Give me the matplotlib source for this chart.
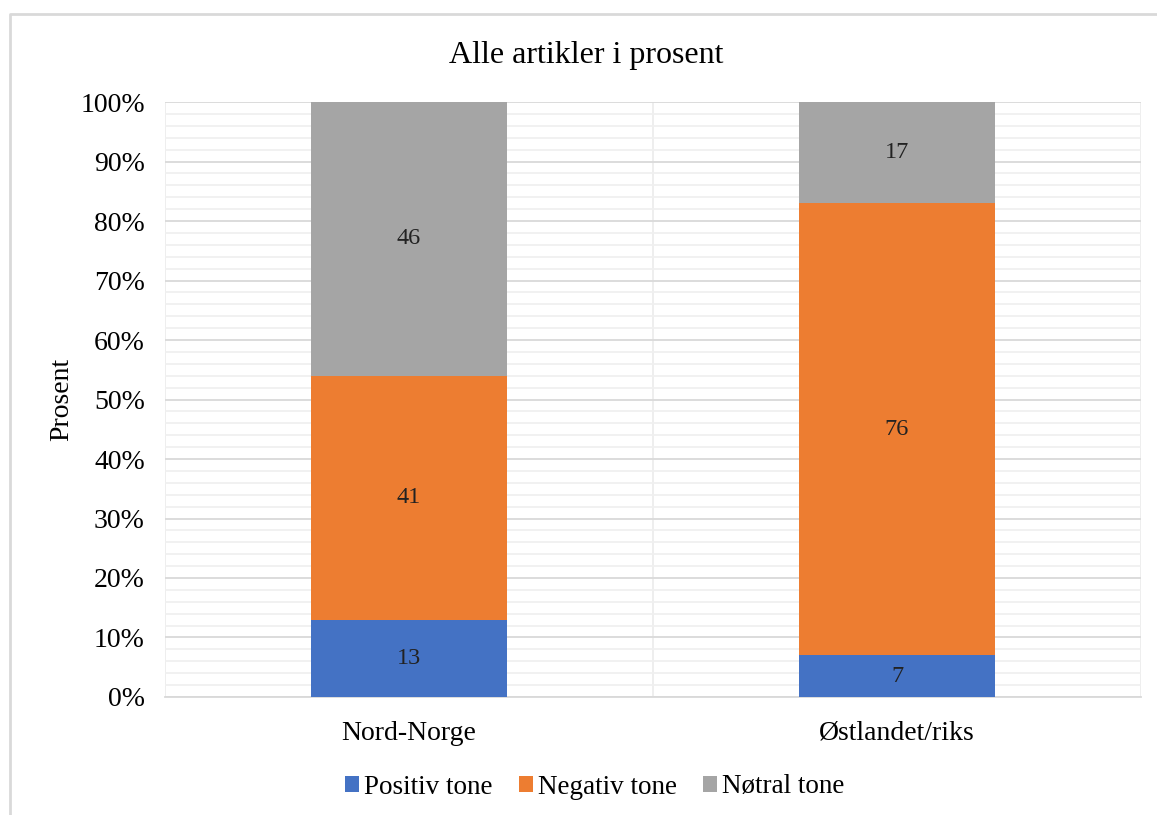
import matplotlib.pyplot as plt
from matplotlib.lines import Line2D
from matplotlib.ticker import MultipleLocator, FuncFormatter

# Data
categories = ["Nord-Norge", "Østlandet/riks"]
positiv = [13, 7]
negativ = [41, 76]
noytral = [46, 17]
series_names = ["Positiv tone", "Negativ tone", "Nøtral tone"]
colors = ["#4472C4", "#ED7D31", "#A5A5A5"]

plt.rcParams['font.family'] = ['Liberation Serif', 'DejaVu Serif']

fig = plt.figure(figsize=(11.57, 8.15), dpi=100)
ax = fig.add_axes([0.1426, 0.1448, 0.8436, 0.7300])

# Frame round the chart (only left and top edges show)
fx, fy = 9.5 / 1157, 1 - 13.5 / 815
fig.lines.append(Line2D([fx, fx, 1.0], [0, fy, fy], transform=fig.transFigure,
                        color="#D9D9D9", linewidth=2))

x = range(len(categories))
bottom = [0] * len(categories)
for vals, name, col in zip([positiv, negativ, noytral], series_names, colors):
    bars = ax.bar(x, vals, 0.4, bottom=bottom, color=col, label=name, zorder=3)
    ax.bar_label(bars, labels=[str(v) for v in vals], label_type="center",
                 fontsize=17.5, color="#222222")
    bottom = [b + v for b, v in zip(bottom, vals)]

ax.set_xlim(-0.5, len(categories) - 0.5)
ax.set_ylim(0, 100)
ax.yaxis.set_major_locator(MultipleLocator(10))
ax.yaxis.set_minor_locator(MultipleLocator(2))
ax.yaxis.set_major_formatter(FuncFormatter(lambda v, p: f"{int(v)}%"))
ax.grid(axis="y", which="major", color="#D9D9D9", linewidth=1.3, zorder=1)
ax.grid(axis="y", which="minor", color="#F0F0F0", linewidth=1.3, zorder=1)
for xv in [-0.5, 0.5, 1.5]:
    ax.axvline(xv, color="#EDEDED", linewidth=1.3, zorder=1)

ax.set_xticks(list(x))
ax.set_xticklabels(categories)
ax.tick_params(axis="both", which="both", length=0, labelsize=20, colors="black")
ax.tick_params(axis="x", pad=17)
ax.tick_params(axis="y", pad=14.5)
for s in ["top", "right", "left"]:
    ax.spines[s].set_visible(False)
ax.spines["bottom"].set_color("#D9D9D9")
ax.spines["bottom"].set_linewidth(1.3)

ax.set_ylabel("Prosent", fontsize=20, labelpad=4)
fig.text(0.507, 1 - 55 / 815, "Alle artikler i prosent", ha="center",
         va="center", fontsize=23)

fig.legend(loc="center", bbox_to_anchor=(0.514, 1 - 787 / 815), ncol=3,
           frameon=False, fontsize=19.5, handlelength=0.52, handleheight=0.52,
           handletextpad=0.2, columnspacing=0.95)

fig.savefig("out.png", dpi=100)
